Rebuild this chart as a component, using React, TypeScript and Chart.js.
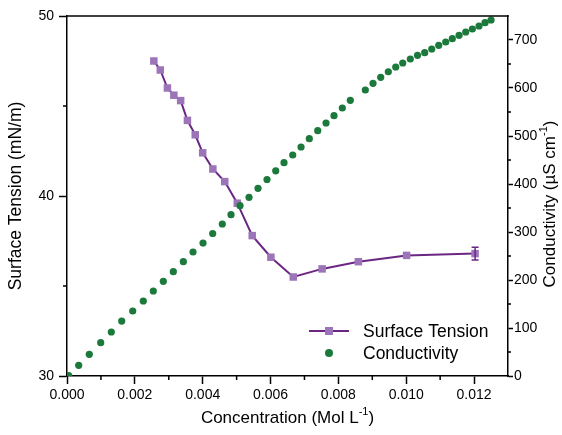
import { useEffect, useRef } from "react";
import { Chart, registerables } from "chart.js";

Chart.register(...registerables);

// Surface tension vs. concentration
const stConcentration = [
  0.00256, 0.00275, 0.00296, 0.00315, 0.00335, 0.00355, 0.00378, 0.004, 0.0043,
  0.00465, 0.00502, 0.00546, 0.00601, 0.00667, 0.00752, 0.00859, 0.01001, 0.01203,
];
const stValues = [
  47.5, 47.0, 46.0, 45.6, 45.3, 44.2, 43.4, 42.4, 41.5, 40.8, 39.6, 37.8, 36.6, 35.5,
  35.95, 36.35, 36.7, 36.8,
];
const stErrors = [0, 0, 0, 0, 0, 0, 0, 0, 0, 0, 0, 0, 0, 0, 0, 0, 0, 0.35];

// Conductivity vs. concentration
const condConcentration = [
  0.00005, 0.000345, 0.000657, 0.000994, 0.001306, 0.001613, 0.001937, 0.002249,
  0.002544, 0.002839, 0.003134, 0.003429, 0.003715, 0.00401, 0.004295, 0.004578,
  0.004835, 0.0051, 0.005366, 0.005631, 0.005896, 0.006153, 0.006397, 0.006654,
  0.006899, 0.007143, 0.007391, 0.007636, 0.007871, 0.008116, 0.008352, 0.008794,
  0.009021, 0.009248, 0.009472, 0.00969, 0.009897, 0.01012, 0.010333, 0.010545,
  0.010752, 0.010958, 0.011164, 0.011359, 0.011557, 0.011754, 0.011949, 0.012146,
  0.012323, 0.0125,
];
const condValues = [
  1, 22.3, 45.2, 69.4, 91.7, 114.4, 135.4, 156.3, 177.1, 197.3, 217.3, 238.1, 258.3,
  277, 296.9, 316.7, 336, 354.8, 372.3, 391, 409.4, 427.5, 444.4, 460.4, 477.1, 494.4,
  511, 527.1, 542.3, 558.3, 574.4, 595.8, 609.8, 622.3, 633.9, 643.8, 652.1, 660.4,
  668.1, 673.5, 681.3, 689, 695.8, 702.7, 709.8, 716.7, 722.9, 729.2, 736, 741.7,
];

const legendLabels = ["Surface Tension", "Conductivity"];

const FONT = "'Liberation Sans', Arial, sans-serif";
const ST_LINE = "#6b2683";
const ST_MARK = "#9c74b8";
const COND = "#1b7a3b";
const INK = "#000";

type Part = { text: string; sup?: boolean };

function drawRich(ctx: CanvasRenderingContext2D, parts: Part[], size: number) {
  const supSize = Math.round(size * 0.62);
  let total = 0;
  const widths = parts.map((p) => {
    ctx.font = `${p.sup ? supSize : size}px ${FONT}`;
    const w = ctx.measureText(p.text).width;
    total += w;
    return w;
  });
  let x = -total / 2;
  parts.forEach((p, i) => {
    ctx.font = `${p.sup ? supSize : size}px ${FONT}`;
    ctx.fillText(p.text, x, p.sup ? -size * 0.38 : 0);
    x += widths[i];
  });
}

const decorPlugin = {
  id: "decor",
  afterDatasetsDraw(chart: any) {
    const { ctx, scales } = chart;
    const xs = scales.x;
    const ys = scales.y;
    ctx.save();
    ctx.strokeStyle = ST_LINE;
    ctx.lineWidth = 1.5;
    stErrors.forEach((err, i) => {
      if (!err) return;
      const px = xs.getPixelForValue(stConcentration[i]);
      const top = ys.getPixelForValue(stValues[i] + err);
      const bot = ys.getPixelForValue(stValues[i] - err);
      ctx.beginPath();
      ctx.moveTo(px, top);
      ctx.lineTo(px, bot);
      ctx.moveTo(px - 3.5, top);
      ctx.lineTo(px + 3.5, top);
      ctx.moveTo(px - 3.5, bot);
      ctx.lineTo(px + 3.5, bot);
      ctx.stroke();
    });
    ctx.restore();
  },
  afterDraw(chart: any) {
    const { ctx, chartArea: a, scales } = chart;
    ctx.save();
    ctx.strokeStyle = INK;
    ctx.lineWidth = 1.5;

    // top edge of the frame
    ctx.beginPath();
    ctx.moveTo(a.left - 0.75, a.top);
    ctx.lineTo(a.right + 0.75, a.top);
    ctx.stroke();

    // minor ticks halfway between major ticks
    const minor = (scale: any, side: "bottom" | "left" | "right") => {
      const ticks = scale.ticks;
      if (ticks.length < 2) return;
      const step = ticks[1].value - ticks[0].value;
      ctx.beginPath();
      ticks.forEach((t: any) => {
        const v = t.value + step / 2;
        if (v >= scale.max - 1e-12) return;
        const p = scale.getPixelForValue(v);
        if (side === "bottom") {
          ctx.moveTo(p, a.bottom);
          ctx.lineTo(p, a.bottom + 4);
        } else if (side === "left") {
          ctx.moveTo(a.left, p);
          ctx.lineTo(a.left - 4, p);
        } else {
          ctx.moveTo(a.right, p);
          ctx.lineTo(a.right + 3, p);
        }
      });
      ctx.stroke();
    };
    minor(scales.x, "bottom");
    minor(scales.y, "left");
    minor(scales.y1, "right");

    // axis titles
    ctx.fillStyle = INK;
    ctx.textBaseline = "middle";
    ctx.textAlign = "left";
    ctx.save();
    ctx.translate((a.left + a.right) / 2, chart.height - 17);
    drawRich(ctx, [{ text: "Concentration (Mol L" }, { text: "-1", sup: true }, { text: ")" }], 17);
    ctx.restore();

    ctx.save();
    ctx.translate(16, (a.top + a.bottom) / 2);
    ctx.rotate(-Math.PI / 2);
    drawRich(ctx, [{ text: "Surface Tension (mN/m)" }], 17.5);
    ctx.restore();

    ctx.save();
    ctx.translate(chart.width - 12, (a.top + a.bottom) / 2 + 8);
    ctx.rotate(-Math.PI / 2);
    drawRich(ctx, [{ text: "Conductivity (\u00B5S cm" }, { text: "-1", sup: true }, { text: ")" }], 17);
    ctx.restore();

    // legend inside the plot, lower right
    const lx = a.right - 199;
    const r1 = a.bottom - 45;
    const r2 = a.bottom - 23;
    ctx.strokeStyle = ST_LINE;
    ctx.lineWidth = 2;
    ctx.beginPath();
    ctx.moveTo(lx, r1);
    ctx.lineTo(lx + 40, r1);
    ctx.stroke();
    ctx.fillStyle = ST_MARK;
    ctx.fillRect(lx + 20 - 4, r1 - 4, 8, 8);
    ctx.fillStyle = COND;
    ctx.beginPath();
    ctx.arc(lx + 20, r2, 4, 0, Math.PI * 2);
    ctx.fill();
    ctx.fillStyle = INK;
    ctx.font = `17.5px ${FONT}`;
    ctx.fillText(legendLabels[0], lx + 54, r1 + 1);
    ctx.fillText(legendLabels[1], lx + 54, r2 + 1);

    ctx.restore();
  },
};

export default function App() {
  const canvasRef = useRef<HTMLCanvasElement | null>(null);

  useEffect(() => {
    const canvas = canvasRef.current;
    if (!canvas) return;

    const tickFont = { family: FONT, size: 14 };
    const makeGrid = (len: number) => ({
      display: true,
      drawOnChartArea: false,
      drawTicks: true,
      tickLength: len,
      tickWidth: 1.5,
      tickColor: INK,
      color: INK,
    });
    const border = { display: true, color: INK, width: 1.5 };

    const chart = new Chart(canvas, {
      type: "scatter",
      data: {
        datasets: [
          {
            label: legendLabels[1],
            data: condConcentration.map((x, i) => ({ x, y: condValues[i] })),
            yAxisID: "y1",
            showLine: false,
            pointStyle: "circle",
            pointRadius: 3.6,
            pointBorderWidth: 0,
            backgroundColor: COND,
            borderColor: COND,
            clip: 0,
            order: 0,
          },
          {
            label: legendLabels[0],
            data: stConcentration.map((x, i) => ({ x, y: stValues[i] })),
            yAxisID: "y",
            showLine: true,
            borderColor: ST_LINE,
            borderWidth: 2,
            pointStyle: "rect",
            pointRadius: 5.3,
            pointBorderWidth: 0,
            pointBackgroundColor: ST_MARK,
            pointBorderColor: ST_MARK,
            order: 1,
          } as any,
        ],
      },
      options: {
        animation: false,
        responsive: false,
        maintainAspectRatio: false,
        devicePixelRatio: 1,
        layout: { padding: { top: 16, left: 0, right: 0, bottom: 0 } },
        plugins: {
          legend: { display: false },
          title: { display: false },
          tooltip: { enabled: false },
        },
        scales: {
          x: {
            type: "linear",
            position: "bottom",
            min: 0,
            max: 0.013,
            grid: makeGrid(8),
            border,
            ticks: {
              stepSize: 0.002,
              includeBounds: false,
              font: tickFont,
              color: INK,
              padding: 3,
              maxRotation: 0,
              callback: (v: any) => Number(v).toFixed(3),
            },
            afterFit: (s: any) => {
              s.height = 59;
            },
          },
          y: {
            type: "linear",
            position: "left",
            min: 30,
            max: 50,
            grid: makeGrid(8),
            border,
            ticks: {
              stepSize: 10,
              includeBounds: false,
              font: tickFont,
              color: INK,
              padding: 5,
            },
            afterFit: (s: any) => {
              s.width = 67;
            },
          },
          y1: {
            type: "linear",
            position: "right",
            min: 0,
            max: 750,
            grid: makeGrid(5),
            border,
            ticks: {
              stepSize: 100,
              includeBounds: false,
              font: tickFont,
              color: INK,
              padding: 1,
            },
            afterFit: (s: any) => {
              s.width = 54;
            },
          },
        },
      } as any,
      plugins: [decorPlugin],
    });

    return () => chart.destroy();
  }, []);

  return (
    <div style={{ position: "fixed", left: 0, top: 0, width: 562, height: 435, background: "#fff" }}>
      <canvas ref={canvasRef} width={562} height={435} />
    </div>
  );
}
